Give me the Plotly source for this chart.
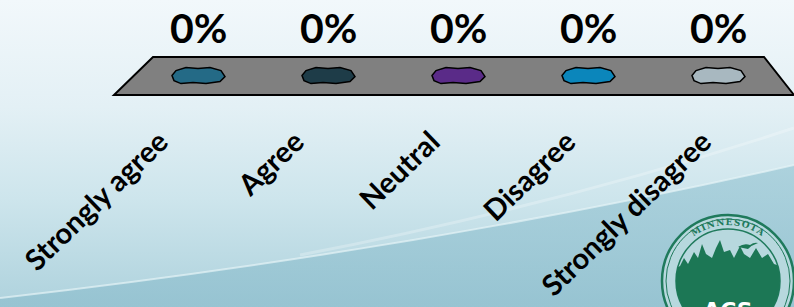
import base64
import plotly.graph_objects as go

# ---- data ----
categories = ["Strongly agree", "Agree", "Neutral", "Disagree", "Strongly disagree"]
values = [0, 0, 0, 0, 0]
colors = ["#246a86", "#1e3c48", "#5a2b88", "#0b86bb", "#a8b8c0"]

W, H = 794, 307

def px(x):
    return x / W

def py(y):
    return 1 - y / H

# ---- background (slide template) as SVG ----
svg = f"""<svg xmlns='http://www.w3.org/2000/svg' width='{W}' height='{H}' viewBox='0 0 {W} {H}' preserveAspectRatio='none'>
<defs>
<linearGradient id='bg' x1='0' y1='0' x2='0' y2='1'>
<stop offset='0' stop-color='#f2f8fb'/>
<stop offset='0.35' stop-color='#e3f0f5'/>
<stop offset='0.65' stop-color='#cde5ec'/>
<stop offset='1' stop-color='#aed2dd'/>
</linearGradient>
<linearGradient id='sw' x1='0' y1='0' x2='0' y2='1'>
<stop offset='0' stop-color='#9fcad7'/>
<stop offset='1' stop-color='#8fbfce'/>
</linearGradient>
<clipPath id='cc'><circle cx='728' cy='281' r='52'/></clipPath>
<path id='arc' d='M 672,281 A 56,56 0 0 1 784,281'/>
</defs>
<rect x='0' y='0' width='{W}' height='{H}' fill='url(#bg)'/>
<path d='M0,298 Q420,250 794,165 L794,307 L0,307 Z' fill='url(#sw)' opacity='0.75'/>
<path d='M0,298 Q420,250 794,165' fill='none' stroke='#e6f3f7' stroke-width='2' opacity='0.7'/>
<path d='M300,255 Q560,205 794,128' fill='none' stroke='#ffffff' stroke-width='3' opacity='0.25'/>
<circle cx='728' cy='281' r='66' fill='#b7d8de' stroke='#1f7a5c' stroke-width='2.5'/>
<circle cx='728' cy='281' r='62' fill='none' stroke='#1f7a5c' stroke-width='1'/>
<text font-family='DejaVu Serif' font-size='9' font-weight='bold' fill='#1f7a5c' letter-spacing='1'>
<textPath href='#arc' startOffset='50%' text-anchor='middle'>MINNESOTA</textPath></text>
<circle cx='728' cy='281' r='52' fill='none' stroke='#1f7a5c' stroke-width='1.5'/>
<g clip-path='url(#cc)'>
<path d='M670,307 L672,270 L680,266 L684,258 L688,264 L694,252 L698,258 L702,244 L706,254 L712,258 L716,248 L720,240 L724,252 L730,250 L734,258 L740,246 L744,254 L750,258 L756,248 L762,258 L768,254 L774,264 L786,268 L786,307 Z' fill='#1c7755'/>
</g>
<path d='M738,247 q6,-4 12,-2 q4,-3 8,-2 q-6,2 -10,6 z' fill='#1c7755'/>
<text x='728' y='318' font-family='DejaVu Sans' font-size='22' font-weight='bold' fill='#ffffff' text-anchor='middle'>ACS</text>
</svg>"""
bg_uri = "data:image/svg+xml;base64," + base64.b64encode(svg.encode("utf-8")).decode("ascii")

fig = go.Figure()

# main data trace (defines category positions on the back row)
fig.add_trace(go.Scatter(
    x=categories, y=values, mode="markers",
    marker=dict(opacity=0), hoverinfo="skip", showlegend=False,
    xaxis="x", yaxis="y",
))
# same data on the front-edge axis (carries the category labels)
fig.add_trace(go.Scatter(
    x=categories, y=values, mode="markers",
    marker=dict(opacity=0), hoverinfo="skip", showlegend=False,
    xaxis="x2", yaxis="y",
))

# floor of the 3-D chart
floor = (f"M {px(153)},{py(57)} L {px(764)},{py(57)} L {px(794)},{py(95)} "
         f"L {px(114)},{py(95)} Z")
shapes = [dict(type="path", xref="paper", yref="paper", path=floor,
               fillcolor="#808080", line=dict(color="black", width=2), layer="above")]

# zero-height bars: flat blobs anchored at (category, value)
blob = "M -26,0 L -22,5 L -12,8 L 0,7 L 12,8 L 23,5 L 27,-1 L 22,-6 L 8,-8 L -5,-7 L -17,-8 L -24,-5 Z"
for cat, val, col in zip(categories, values, colors):
    shapes.append(dict(
        type="path", xref="x", yref="y",
        xsizemode="pixel", ysizemode="pixel",
        xanchor=cat, yanchor=val, path=blob,
        fillcolor=col, line=dict(color="black", width=1.5), layer="above",
    ))

annotations = []
for cat, val in zip(categories, values):
    annotations.append(dict(
        x=cat, y=val, xref="x", yref="y", text=f"{val:.0%}",
        showarrow=False, yanchor="bottom", yshift=22,
        font=dict(family="Lato", size=41, color="black", weight="bold"),
    ))

fig.update_layout(
    width=W, height=H,
    margin=dict(l=0, r=0, t=0, b=0, autoexpand=False),
    paper_bgcolor="#dcecf2", plot_bgcolor="rgba(0,0,0,0)",
    images=[dict(source=bg_uri, xref="paper", yref="paper", x=0, y=1,
                 sizex=1, sizey=1, sizing="stretch", layer="below")],
    shapes=shapes, annotations=annotations,
    showlegend=False, hovermode=False,
    xaxis=dict(domain=[px(133), px(783)], range=[-0.5, 4.5], type="category",
               categoryorder="array", categoryarray=categories,
               visible=False),
    xaxis2=dict(domain=[px(112), px(791)], range=[-0.5, 4.5], type="category",
                categoryorder="array", categoryarray=categories,
                anchor="free", position=py(118), automargin=False,
                showline=False, showgrid=False, zeroline=False, ticks="",
                tickangle=-44, ticklabelshift=-20,
                tickfont=dict(family="Lato", size=29, color="black", weight="bold")),
    yaxis=dict(domain=[0, 1], range=[-2.45, 0.8], visible=False, fixedrange=True),
)

fig.write_html("out.html", config={"displayModeBar": False, "staticPlot": True},
               post_script="document.body.style.margin='0';")
